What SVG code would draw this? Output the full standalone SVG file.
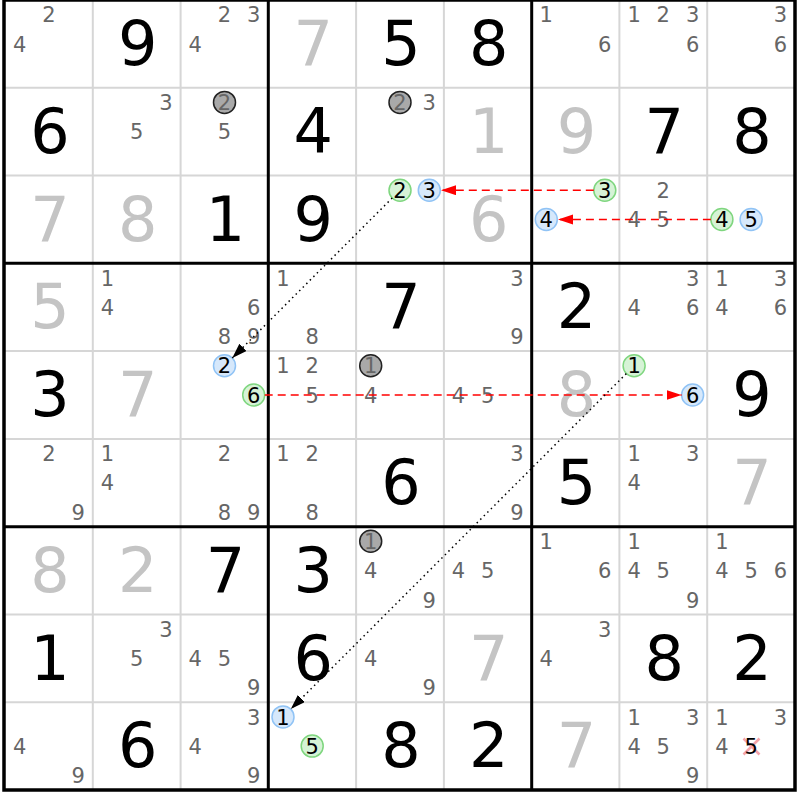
<svg xmlns="http://www.w3.org/2000/svg" width="800" height="800" viewBox="0 0 800 800">
<defs>
<style>
text{font-family:"DejaVu Sans","Liberation Sans",sans-serif;text-anchor:middle}
.c{font-size:21px;fill:#666}
.k{font-size:21px;fill:#000}
.g{font-size:62px;fill:#000}
.s{font-size:62px;fill:#c4c4c4}
.thin{stroke:#d6d6d6;stroke-width:2}
.thick{stroke:#000;stroke-width:3}
.cg{fill:#a9a9a9;stroke:#222;stroke-width:1.5}
.cgr{fill:#d6f3d6;stroke:#7fd67f;stroke-width:1.5}
.cbl{fill:#d6e8fb;stroke:#90c3f5;stroke-width:1.5}
.red{stroke:#ff0000;stroke-width:1.6;stroke-dasharray:8,5;fill:none}
.dot{stroke:#000;stroke-width:1.5;stroke-dasharray:1.5,3.5;fill:none}
</style>
<marker id="ar" markerUnits="userSpaceOnUse" markerWidth="16" markerHeight="11" refX="15" refY="5" orient="auto"><path d="M0,0 L15,5 L0,10 z" fill="#ff0000"/></marker>
<marker id="ab" markerUnits="userSpaceOnUse" markerWidth="16" markerHeight="11" refX="15" refY="5" orient="auto"><path d="M0,0 L15,5 L0,10 z" fill="#000"/></marker>
</defs>
<rect x="0" y="0" width="800" height="800" fill="#fff"/>
<g id="grid">
<path class="thin" d="M92.8,0V790M180.6,0V790M356.1,0V790M443.9,0V790M619.4,0V790M707.2,0V790M5,87.8H795M5,175.6H795M5,351.1H795M5,438.9H795M5,614.4H795M5,702.2H795"/>
<path class="thick" d="M268.3,0V790M531.7,0V790M5,263.3H795M5,526.7H795"/>
<rect x="4" y="0" width="791" height="790" fill="none" stroke="#000" stroke-width="3.5"/>
</g>
<g id="r1c1"><text class="c" x="48.9" y="22.3">2</text><text class="c" x="19.6" y="51.5">4</text></g>
<g id="r1c2"><text class="g" x="137.7" y="65.1">9</text></g>
<g id="r1c3"><text class="c" x="224.5" y="22.3">2</text><text class="c" x="253.7" y="22.3">3</text><text class="c" x="195.2" y="51.5">4</text></g>
<g id="r1c4"><text class="s" x="313.2" y="65.1">7</text></g>
<g id="r1c5"><text class="g" x="401" y="65.1">5</text></g>
<g id="r1c6"><text class="g" x="488.8" y="65.1">8</text></g>
<g id="r1c7"><text class="c" x="546.3" y="22.3">1</text><text class="c" x="604.8" y="51.5">6</text></g>
<g id="r1c8"><text class="c" x="634.1" y="22.3">1</text><text class="c" x="663.3" y="22.3">2</text><text class="c" x="692.6" y="22.3">3</text><text class="c" x="692.6" y="51.5">6</text></g>
<g id="r1c9"><text class="c" x="780.4" y="22.3">3</text><text class="c" x="780.4" y="51.5">6</text></g>
<g id="r2c1"><text class="g" x="49.9" y="152.9">6</text></g>
<g id="r2c2"><text class="c" x="165.9" y="110.1">3</text><text class="c" x="136.7" y="139.3">5</text></g>
<g id="r2c3"><circle class="cg" cx="224.5" cy="102.4" r="11"/><text class="c" x="224.5" y="110.1">2</text><text class="c" x="224.5" y="139.3">5</text></g>
<g id="r2c4"><text class="g" x="313.2" y="152.9">4</text></g>
<g id="r2c5"><circle class="cg" cx="400" cy="102.4" r="11"/><text class="c" x="400" y="110.1">2</text><text class="c" x="429.3" y="110.1">3</text></g>
<g id="r2c6"><text class="s" x="488.8" y="152.9">1</text></g>
<g id="r2c7"><text class="s" x="576.6" y="152.9">9</text></g>
<g id="r2c8"><text class="g" x="664.3" y="152.9">7</text></g>
<g id="r2c9"><text class="g" x="752.1" y="152.9">8</text></g>
<g id="r3c1"><text class="s" x="49.9" y="240.7">7</text></g>
<g id="r3c2"><text class="s" x="137.7" y="240.7">8</text></g>
<g id="r3c3"><text class="g" x="225.5" y="240.7">1</text></g>
<g id="r3c4"><text class="g" x="313.2" y="240.7">9</text></g>
<g id="r3c5"><circle class="cgr" cx="400" cy="190.2" r="11"/><text class="k" x="400" y="197.9">2</text><circle class="cbl" cx="429.3" cy="190.2" r="11"/><text class="k" x="429.3" y="197.9">3</text></g>
<g id="r3c6"><text class="s" x="488.8" y="240.7">6</text></g>
<g id="r3c7"><circle class="cgr" cx="604.8" cy="190.2" r="11"/><text class="k" x="604.8" y="197.9">3</text><circle class="cbl" cx="546.3" cy="219.5" r="11"/><text class="k" x="546.3" y="227.1">4</text></g>
<g id="r3c8"><text class="c" x="663.3" y="197.9">2</text><text class="c" x="634.1" y="227.1">4</text><text class="c" x="663.3" y="227.1">5</text></g>
<g id="r3c9"><circle class="cgr" cx="721.9" cy="219.5" r="11"/><text class="k" x="721.9" y="227.1">4</text><circle class="cbl" cx="751.1" cy="219.5" r="11"/><text class="k" x="751.1" y="227.1">5</text></g>
<g id="r4c1"><text class="s" x="49.9" y="328.4">5</text></g>
<g id="r4c2"><text class="c" x="107.4" y="285.6">1</text><text class="c" x="107.4" y="314.8">4</text></g>
<g id="r4c3"><text class="c" x="253.7" y="314.8">6</text><text class="c" x="224.5" y="344.1">8</text><text class="c" x="253.7" y="344.1">9</text></g>
<g id="r4c4"><text class="c" x="283" y="285.6">1</text><text class="c" x="312.2" y="344.1">8</text></g>
<g id="r4c5"><text class="g" x="401" y="328.4">7</text></g>
<g id="r4c6"><text class="c" x="517" y="285.6">3</text><text class="c" x="517" y="344.1">9</text></g>
<g id="r4c7"><text class="g" x="576.6" y="328.4">2</text></g>
<g id="r4c8"><text class="c" x="692.6" y="285.6">3</text><text class="c" x="634.1" y="314.8">4</text><text class="c" x="692.6" y="314.8">6</text></g>
<g id="r4c9"><text class="c" x="721.9" y="285.6">1</text><text class="c" x="780.4" y="285.6">3</text><text class="c" x="721.9" y="314.8">4</text><text class="c" x="780.4" y="314.8">6</text></g>
<g id="r5c1"><text class="g" x="49.9" y="416.2">3</text></g>
<g id="r5c2"><text class="s" x="137.7" y="416.2">7</text></g>
<g id="r5c3"><circle class="cbl" cx="224.5" cy="365.8" r="11"/><text class="k" x="224.5" y="373.4">2</text><circle class="cgr" cx="253.7" cy="395" r="11"/><text class="k" x="253.7" y="402.6">6</text></g>
<g id="r5c4"><text class="c" x="283" y="373.4">1</text><text class="c" x="312.2" y="373.4">2</text><text class="c" x="312.2" y="402.6">5</text></g>
<g id="r5c5"><circle class="cg" cx="370.7" cy="365.8" r="11"/><text class="c" x="370.7" y="373.4">1</text><text class="c" x="370.7" y="402.6">4</text></g>
<g id="r5c6"><text class="c" x="458.5" y="402.6">4</text><text class="c" x="487.8" y="402.6">5</text></g>
<g id="r5c7"><text class="s" x="576.6" y="416.2">8</text></g>
<g id="r5c8"><circle class="cgr" cx="634.1" cy="365.8" r="11"/><text class="k" x="634.1" y="373.4">1</text><circle class="cbl" cx="692.6" cy="395" r="11"/><text class="k" x="692.6" y="402.6">6</text></g>
<g id="r5c9"><text class="g" x="752.1" y="416.2">9</text></g>
<g id="r6c1"><text class="c" x="48.9" y="461.2">2</text><text class="c" x="78.2" y="519.7">9</text></g>
<g id="r6c2"><text class="c" x="107.4" y="461.2">1</text><text class="c" x="107.4" y="490.4">4</text></g>
<g id="r6c3"><text class="c" x="224.5" y="461.2">2</text><text class="c" x="224.5" y="519.7">8</text><text class="c" x="253.7" y="519.7">9</text></g>
<g id="r6c4"><text class="c" x="283" y="461.2">1</text><text class="c" x="312.2" y="461.2">2</text><text class="c" x="312.2" y="519.7">8</text></g>
<g id="r6c5"><text class="g" x="401" y="504">6</text></g>
<g id="r6c6"><text class="c" x="517" y="461.2">3</text><text class="c" x="517" y="519.7">9</text></g>
<g id="r6c7"><text class="g" x="576.6" y="504">5</text></g>
<g id="r6c8"><text class="c" x="634.1" y="461.2">1</text><text class="c" x="692.6" y="461.2">3</text><text class="c" x="634.1" y="490.4">4</text></g>
<g id="r6c9"><text class="s" x="752.1" y="504">7</text></g>
<g id="r7c1"><text class="s" x="49.9" y="591.8">8</text></g>
<g id="r7c2"><text class="s" x="137.7" y="591.8">2</text></g>
<g id="r7c3"><text class="g" x="225.5" y="591.8">7</text></g>
<g id="r7c4"><text class="g" x="313.2" y="591.8">3</text></g>
<g id="r7c5"><circle class="cg" cx="370.7" cy="541.3" r="11"/><text class="c" x="370.7" y="549">1</text><text class="c" x="370.7" y="578.2">4</text><text class="c" x="429.3" y="607.5">9</text></g>
<g id="r7c6"><text class="c" x="458.5" y="578.2">4</text><text class="c" x="487.8" y="578.2">5</text></g>
<g id="r7c7"><text class="c" x="546.3" y="549">1</text><text class="c" x="604.8" y="578.2">6</text></g>
<g id="r7c8"><text class="c" x="634.1" y="549">1</text><text class="c" x="634.1" y="578.2">4</text><text class="c" x="663.3" y="578.2">5</text><text class="c" x="692.6" y="607.5">9</text></g>
<g id="r7c9"><text class="c" x="721.9" y="549">1</text><text class="c" x="721.9" y="578.2">4</text><text class="c" x="751.1" y="578.2">5</text><text class="c" x="780.4" y="578.2">6</text></g>
<g id="r8c1"><text class="g" x="49.9" y="679.6">1</text></g>
<g id="r8c2"><text class="c" x="165.9" y="636.7">3</text><text class="c" x="136.7" y="666">5</text></g>
<g id="r8c3"><text class="c" x="195.2" y="666">4</text><text class="c" x="224.5" y="666">5</text><text class="c" x="253.7" y="695.2">9</text></g>
<g id="r8c4"><text class="g" x="313.2" y="679.6">6</text></g>
<g id="r8c5"><text class="c" x="370.7" y="666">4</text><text class="c" x="429.3" y="695.2">9</text></g>
<g id="r8c6"><text class="s" x="488.8" y="679.6">7</text></g>
<g id="r8c7"><text class="c" x="604.8" y="636.7">3</text><text class="c" x="546.3" y="666">4</text></g>
<g id="r8c8"><text class="g" x="664.3" y="679.6">8</text></g>
<g id="r8c9"><text class="g" x="752.1" y="679.6">2</text></g>
<g id="r9c1"><text class="c" x="19.6" y="753.7">4</text><text class="c" x="78.2" y="783">9</text></g>
<g id="r9c2"><text class="g" x="137.7" y="767.3">6</text></g>
<g id="r9c3"><text class="c" x="253.7" y="724.5">3</text><text class="c" x="195.2" y="753.7">4</text><text class="c" x="253.7" y="783">9</text></g>
<g id="r9c4"><circle class="cbl" cx="283" cy="716.9" r="11"/><text class="k" x="283" y="724.5">1</text><circle class="cgr" cx="312.2" cy="746.1" r="11"/><text class="k" x="312.2" y="753.7">5</text></g>
<g id="r9c5"><text class="g" x="401" y="767.3">8</text></g>
<g id="r9c6"><text class="g" x="488.8" y="767.3">2</text></g>
<g id="r9c7"><text class="s" x="576.6" y="767.3">7</text></g>
<g id="r9c8"><text class="c" x="634.1" y="724.5">1</text><text class="c" x="692.6" y="724.5">3</text><text class="c" x="634.1" y="753.7">4</text><text class="c" x="663.3" y="753.7">5</text><text class="c" x="692.6" y="783">9</text></g>
<g id="r9c9"><text class="c" x="721.9" y="724.5">1</text><text class="c" x="780.4" y="724.5">3</text><text class="c" x="721.9" y="753.7">4</text><path d="M743.5,738.5L759.5,754.5M759.5,738.5L743.5,754.5" stroke="#f4a3aa" stroke-width="2.5"/><text class="k" x="751.1" y="753.7">5</text></g>
<g id="connectors">
<line class="red" x1="593.8" y1="190.2" x2="441" y2="190.2" marker-end="url(#ar)"/>
<line class="red" x1="710.9" y1="219.5" x2="558" y2="219.5" marker-end="url(#ar)"/>
<line class="red" x1="264.7" y1="395" x2="681.6" y2="395" marker-end="url(#ar)"/>
<line class="dot" x1="392.2" y1="198" x2="232.3" y2="358" marker-end="url(#ab)"/>
<line class="dot" x1="626.3" y1="373.6" x2="290.8" y2="709.1" marker-end="url(#ab)"/>
</g>
</svg>
